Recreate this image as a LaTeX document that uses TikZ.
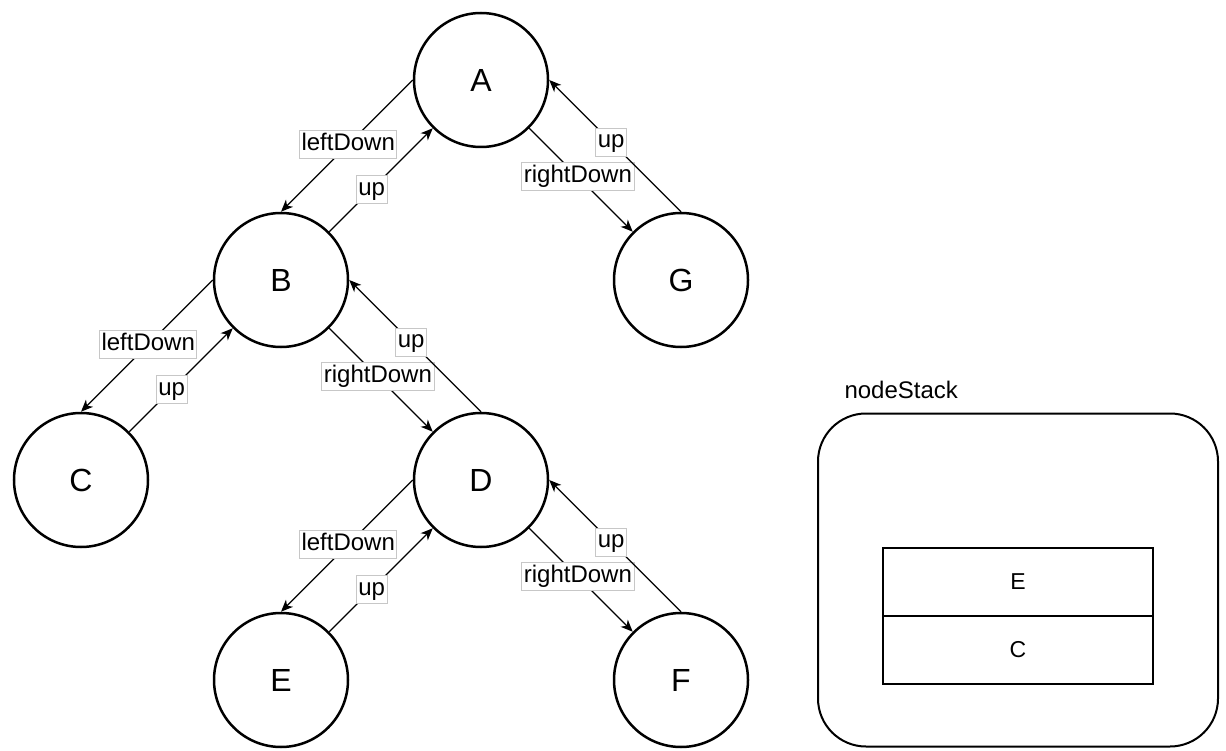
\documentclass[tikz,border=0pt]{standalone}
\usepackage{fontspec}
\setmainfont{Liberation Sans}
\usetikzlibrary{arrows.meta, positioning}
\tikzstyle{vertex} = [circle, draw=black, line width=2.5pt, minimum size=134pt, inner sep=0pt, font=\fontsize{32}{38}\selectfont]
\tikzstyle{edgelabel} = [rectangle, fill=white, draw=black!22, line width=0.8pt, inner xsep=2pt, inner ysep=3pt, text height=17pt, text depth=5pt, font=\fontsize{24}{28}\selectfont]
\tikzstyle{arrow} = [line width=1.4pt, -{Stealth[length=12pt,width=10pt,inset=3.5pt]}]
\tikzstyle{cell} = [rectangle, draw=black, line width=2.5pt, minimum width=270pt, minimum height=68pt, font=\fontsize{23}{27}\selectfont]
\tikzstyle{container} = [rectangle, draw=black, line width=2pt, rounded corners=48pt, minimum width=400pt, minimum height=333pt]

\begin{document}
\begin{tikzpicture}[x=1pt, y=1pt, node distance=200pt and 200pt, on grid]
        \useasboundingbox (0,0) rectangle (1226,-751);

        % tree
        \node (A) [vertex] at (481,-80) {A};
        \node (B) [vertex, below left=of A] {B};
        \node (G) [vertex, below right=of A] {G};
        \node (C) [vertex, below left=of B] {C};
        \node (D) [vertex, below right=of B] {D};
        \node (E) [vertex, below left=of D] {E};
        \node (F) [vertex, below right=of D] {F};

        \draw [arrow] (A.west) -- node[edgelabel, pos=0.49] {leftDown} (B.north);
        \draw [arrow] (B.north east) -- node[edgelabel, pos=0.41] {up} (A.south west);
        \draw [arrow] (A.south east) -- node[edgelabel, pos=0.47] {rightDown} (G.north west);
        \draw [arrow] (G.north) -- node[edgelabel, pos=0.53] {up} (A.east);

        \draw [arrow] (B.west) -- node[edgelabel, pos=0.49] {leftDown} (C.north);
        \draw [arrow] (C.north east) -- node[edgelabel, pos=0.41] {up} (B.south west);
        \draw [arrow] (B.south east) -- node[edgelabel, pos=0.47] {rightDown} (D.north west);
        \draw [arrow] (D.north) -- node[edgelabel, pos=0.53] {up} (B.east);

        \draw [arrow] (D.west) -- node[edgelabel, pos=0.49] {leftDown} (E.north);
        \draw [arrow] (E.north east) -- node[edgelabel, pos=0.41] {up} (D.south west);
        \draw [arrow] (D.south east) -- node[edgelabel, pos=0.47] {rightDown} (F.north west);
        \draw [arrow] (F.north) -- node[edgelabel, pos=0.53] {up} (D.east);

        % stack
        \node (stack) [container] at (1018,-580) {};
        \node (title) [anchor=base west, font=\fontsize{24}{28}\selectfont] at (841,-398) {nodeStack};
        \node (topcell) [cell] at (1018,-582) {E};
        \node (botcell) [cell, below=68pt of topcell] {C};
    \end{tikzpicture}
\end{document}
